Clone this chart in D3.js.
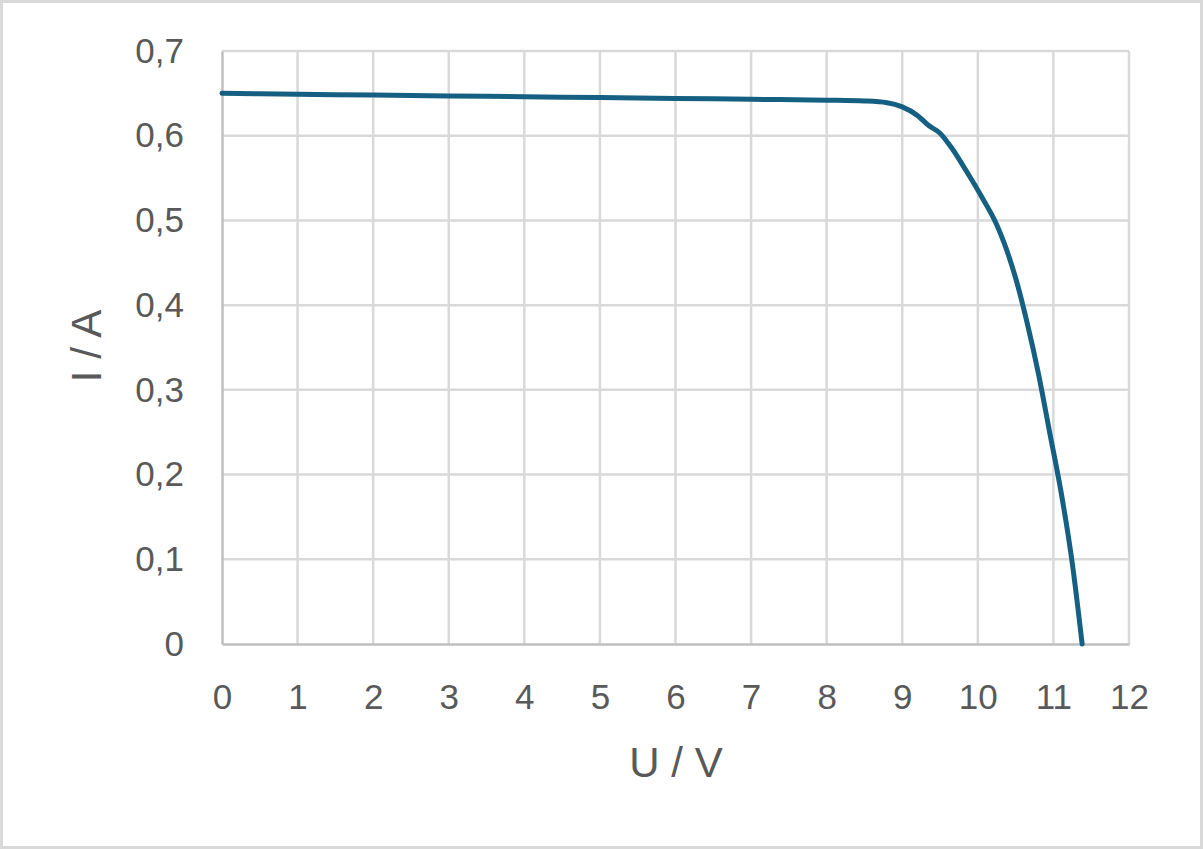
<!DOCTYPE html>
<html>
<head>
<meta charset="utf-8">
<script src="https://cdn.jsdelivr.net/npm/d3@7"></script>
<style>
  body { margin: 0; background: #fff; }
  text { font-family: "Liberation Sans", Arial, sans-serif; fill: #595959; }
</style>
</head>
<body>
<div id="chart"></div>
<script>
// U / V (voltage) and I / A (current)
var voltage = [0, 1, 2, 3, 4, 5, 6, 7, 8, 8.5, 8.8, 9.0, 9.2, 9.35, 9.5, 9.65, 9.85, 10.05, 10.25, 10.35, 10.5, 10.65, 10.8, 10.95, 11.1, 11.25, 11.38];
var current = [0.65, 0.649, 0.648, 0.647, 0.646, 0.645, 0.644, 0.643, 0.642, 0.641, 0.639, 0.634, 0.624, 0.612, 0.603, 0.586, 0.558, 0.528, 0.495, 0.473, 0.432, 0.38, 0.32, 0.25, 0.18, 0.095, 0];
var xTicks = [0, 1, 2, 3, 4, 5, 6, 7, 8, 9, 10, 11, 12];
var yTicks = [0, 0.1, 0.2, 0.3, 0.4, 0.5, 0.6, 0.7];

var svgWidth = 1203;
var svgHeight = 849;
var margin = { top: 51, right: 74, bottom: 205, left: 222 };
var width = svgWidth - margin.left - margin.right;
var height = svgHeight - margin.top - margin.bottom;

var svg = d3.select("#chart")
  .append("svg")
  .attr("width", svgWidth)
  .attr("height", svgHeight);

// outer frame
svg.append("rect")
  .attr("x", 1.5).attr("y", 1.5)
  .attr("width", svgWidth - 3).attr("height", svgHeight - 3)
  .attr("fill", "#fff")
  .attr("stroke", "#d9d9d9")
  .attr("stroke-width", 3);

var chartGroup = svg.append("g")
  .attr("transform", `translate(${margin.left}, ${margin.top})`);

var x = d3.scaleLinear().domain([0, 12]).range([0, width]);
var y = d3.scaleLinear().domain([0, 0.7]).range([height, 0]);

var fmt = d => d3.format(".1f")(d).replace(".", ",").replace(/^0,0$/, "0");

// gridlines
chartGroup.append("g")
  .selectAll("line.v")
  .data(xTicks.slice(1))
  .enter().append("line")
  .attr("x1", d => x(d)).attr("x2", d => x(d))
  .attr("y1", 0).attr("y2", height)
  .attr("stroke", "#d9d9d9").attr("stroke-width", 2.5);

chartGroup.append("g")
  .selectAll("line.h")
  .data(yTicks.slice(1))
  .enter().append("line")
  .attr("x1", 0).attr("x2", width)
  .attr("y1", d => y(d)).attr("y2", d => y(d))
  .attr("stroke", "#d9d9d9").attr("stroke-width", 2.5);

// axes
var bottomAxis = d3.axisBottom(x).tickValues(xTicks).tickSize(0).tickPadding(40).tickFormat(d => d);
var leftAxis = d3.axisLeft(y).tickValues(yTicks).tickSize(0).tickPadding(38).tickFormat(d => d === 0 ? "0" : fmt(d));

var gx = chartGroup.append("g")
  .attr("transform", `translate(0, ${height})`)
  .call(bottomAxis);
gx.select(".domain").attr("stroke", "#bfbfbf").attr("stroke-width", 2.5);
gx.selectAll("text").attr("font-size", 35).attr("fill", "#595959");

var gy = chartGroup.append("g")
  .call(leftAxis);
gy.select(".domain").attr("stroke", "#bfbfbf").attr("stroke-width", 2.5);
gy.selectAll("text").attr("font-size", 35).attr("fill", "#595959");

// curve
var data = voltage.map((u, i) => ({ u: u, i: current[i] }));
var line = d3.line()
  .x(d => x(d.u))
  .y(d => y(d.i))
  .curve(d3.curveMonotoneX);

chartGroup.append("path")
  .datum(data)
  .attr("d", line)
  .attr("fill", "none")
  .attr("stroke", "#156082")
  .attr("stroke-width", 5)
  .attr("stroke-linecap", "round")
  .attr("stroke-linejoin", "round");

// axis titles
svg.append("text")
  .attr("x", 676)
  .attr("y", 777)
  .attr("text-anchor", "middle")
  .attr("font-size", 42)
  .text("U / V");

svg.append("text")
  .attr("transform", "translate(101, 346) rotate(-90)")
  .attr("text-anchor", "middle")
  .attr("font-size", 42)
  .text("I / A");
</script>
</body>
</html>
